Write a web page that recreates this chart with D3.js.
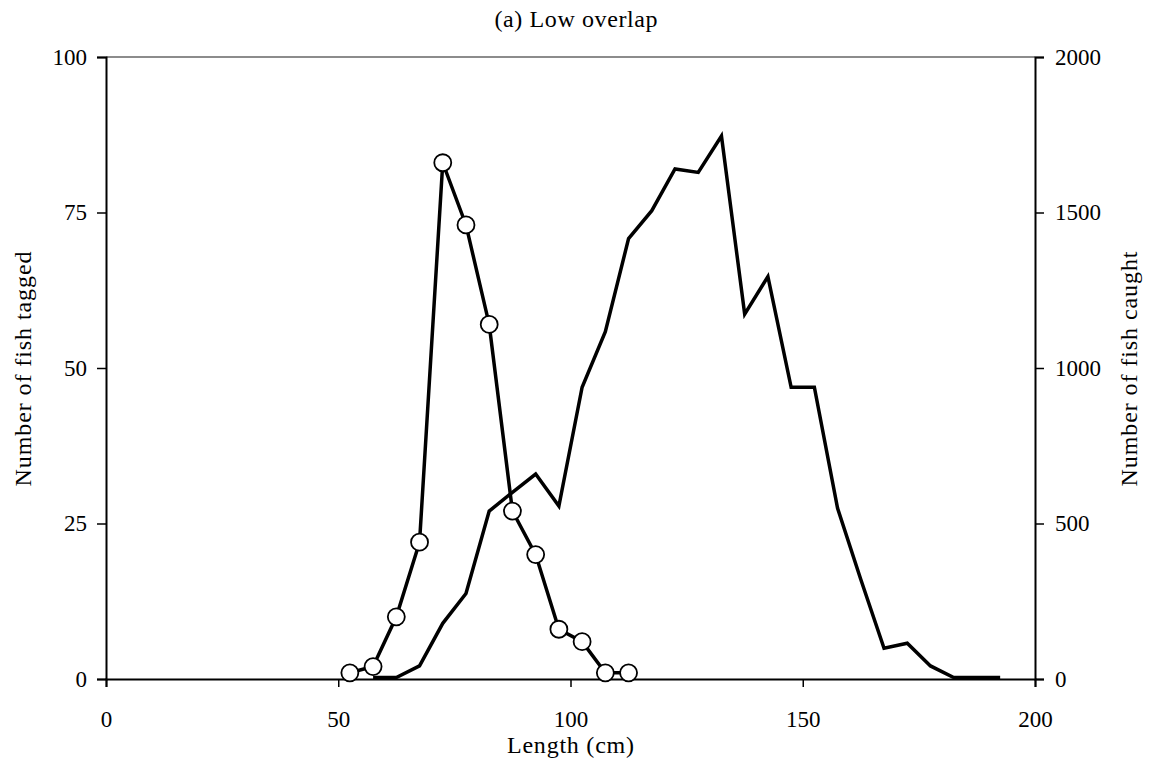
<!DOCTYPE html>
<html>
<head>
<meta charset="utf-8">
<script src="https://cdnjs.cloudflare.com/ajax/libs/d3/7.8.5/d3.min.js"></script>
<style>
	body { margin: 0; background: #fff; }
	text { font-family: "Liberation Serif", "Times New Roman", serif; fill: #000; }
</style>
</head>
<body>
<svg id="svg1" width="1150" height="764"></svg>
<script>

// length class mid points (cm)
var tagged_length = [52.5, 57.5, 62.5, 67.5, 72.5, 77.5, 82.5, 87.5, 92.5, 97.5, 102.5, 107.5, 112.5];
var tagged_count = [1, 2, 10, 22, 83, 73, 57, 27, 20, 8, 6, 1, 1];

var caught_length = [57.5, 62.5, 67.5, 72.5, 77.5, 82.5, 87.5, 92.5, 97.5, 102.5, 107.5, 112.5, 117.5, 122.5,
	127.5, 132.5, 137.5, 142.5, 147.5, 152.5, 157.5, 162.5, 167.5, 172.5, 177.5, 182.5, 187.5, 192.5];
var caught_count = [5, 5, 42, 179, 275, 540, 600, 659, 556, 938, 1117, 1416, 1506, 1640,
	1629, 1746, 1173, 1294, 938, 938, 549, 320, 99, 115, 42, 5, 5, 5];

var x_ticks = [0, 50, 100, 150, 200];
var left_ticks = [0, 25, 50, 75, 100];
var right_ticks = [0, 500, 1000, 1500, 2000];

var title_text = "(a) Low overlap";
var x_title = "Length (cm)";
var left_title = "Number of fish tagged";
var right_title = "Number of fish caught";

var draw_chart = function()
{
	var margin = {top: 57, right: 115, bottom: 85, left: 106},
		width = 1150 - margin.left - margin.right,
		height = 764 - margin.top - margin.bottom;

	var svg = d3.select("#svg1");

	var g = svg.append("g")
		.attr("transform", "translate(" + margin.left + "," + margin.top + ")");

	var x = d3.scaleLinear().domain([0, 200]).range([0, width]);
	var yLeft = d3.scaleLinear().domain([0, 100]).range([height, 0]);
	var yRight = d3.scaleLinear().domain([0, 2000]).range([height, 0]);

	// plot area top border
	g.append("line")
		.attr("x1", 0).attr("x2", width)
		.attr("y1", 0).attr("y2", 0)
		.attr("stroke", "#8c8c8c")
		.attr("stroke-width", 2);

	var xAxis = g.append("g")
		.attr("transform", "translate(0," + height + ")")
		.call(d3.axisBottom(x).tickValues(x_ticks).tickSize(8).tickPadding(24).tickFormat(d3.format("d")));

	var leftAxis = g.append("g")
		.call(d3.axisLeft(yLeft).tickValues(left_ticks).tickSize(9).tickPadding(10).tickFormat(d3.format("d")));

	var rightAxis = g.append("g")
		.attr("transform", "translate(" + width + ",0)")
		.call(d3.axisRight(yRight).tickValues(right_ticks).tickSize(9).tickPadding(11).tickFormat(d3.format("d")));

	[xAxis, leftAxis, rightAxis].forEach(function(a)
	{
		a.select(".domain").attr("stroke", "#000").attr("stroke-width", 2);
		a.selectAll(".tick line").attr("stroke", "#000").attr("stroke-width", 1.5);
		a.selectAll(".tick text")
			.style("font-family", "Liberation Serif, Times New Roman, serif")
			.style("font-size", "23px")
			.attr("fill", "#000");
	});

	// caught line (right axis)
	var caught = caught_length.map(function(d, i) { return {x: d, y: caught_count[i]}; });
	var lineRight = d3.line()
		.x(function(d) { return x(d.x); })
		.y(function(d) { return yRight(d.y); });

	g.append("path")
		.datum(caught)
		.attr("d", lineRight)
		.attr("fill", "none")
		.attr("stroke", "#000")
		.attr("stroke-width", 3.5)
		.attr("stroke-linejoin", "miter");

	// tagged line with circles (left axis)
	var tagged = tagged_length.map(function(d, i) { return {x: d, y: tagged_count[i]}; });
	var lineLeft = d3.line()
		.x(function(d) { return x(d.x); })
		.y(function(d) { return yLeft(d.y); });

	g.append("path")
		.datum(tagged)
		.attr("d", lineLeft)
		.attr("fill", "none")
		.attr("stroke", "#000")
		.attr("stroke-width", 3.5)
		.attr("stroke-linejoin", "miter");

	g.selectAll(".dot")
		.data(tagged)
		.enter().append("circle")
		.attr("class", "dot")
		.attr("cx", function(d) { return x(d.x); })
		.attr("cy", function(d) { return yLeft(d.y); })
		.attr("r", 8.5)
		.attr("fill", "#fff")
		.attr("stroke", "#000")
		.attr("stroke-width", 1.8);

	// titles (text widths stretched to match the original spacing)
	svg.append("text")
		.attr("x", 576)
		.attr("y", 27)
		.attr("text-anchor", "middle")
		.attr("textLength", 163)
		.attr("lengthAdjust", "spacing")
		.style("font-size", "24px")
		.text(title_text);

	svg.append("text")
		.attr("x", margin.left + x(100))
		.attr("y", 753)
		.attr("text-anchor", "middle")
		.attr("textLength", 127)
		.attr("lengthAdjust", "spacing")
		.style("font-size", "24px")
		.text(x_title);

	svg.append("text")
		.attr("text-anchor", "middle")
		.attr("textLength", 235)
		.attr("lengthAdjust", "spacing")
		.attr("transform", "translate(31,369) rotate(-90)")
		.style("font-size", "24px")
		.text(left_title);

	svg.append("text")
		.attr("text-anchor", "middle")
		.attr("textLength", 235)
		.attr("lengthAdjust", "spacing")
		.attr("transform", "translate(1137,369) rotate(-90)")
		.style("font-size", "24px")
		.text(right_title);
}

draw_chart();

</script>
</body>
</html>
